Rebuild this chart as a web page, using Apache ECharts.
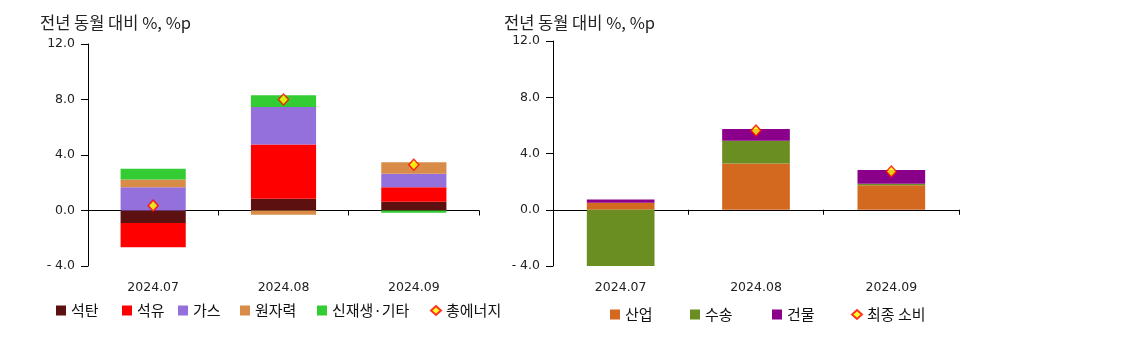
<!DOCTYPE html>
<html>
<head>
<meta charset="utf-8">
<script src="https://cdn.jsdelivr.net/npm/echarts@6/dist/echarts.min.js"></script>
<style>
html,body{margin:0;padding:0;background:#fff;}
#c{width:1143px;height:339px;}
</style>
</head>
<body>
<div id="c"></div>
<script>
// ---- data ----
var categories = ['2024.07', '2024.08', '2024.09'];
var yTicks = [-4, 0, 4, 8, 12];

// left chart: energy source contributions
var coal = [-0.9, 0.85, 0.63];
var oil = [-1.75, 3.9, 1.04];
var gas = [1.67, 2.71, 0.98];
var nuclear = [0.57, -0.3, 0.82];
var renew = [0.77, 0.84, -0.16];
var totalEnergy = [0.35, 8.0, 3.3];

// right chart: final consumption by sector
var industry = [0.5, 3.29, 1.75];
var transport = [-4.07, 1.61, 0.1];
var building = [0.23, 0.85, 0.97];
var finalConsumption = ['-', 5.63, 2.72];

var titleText = '전년 동월 대비 %, %p';

// ---- chart ----
var chart = echarts.init(document.getElementById('c'));
var KR = 'Noto Sans CJK KR';
var NUM = 'DejaVu Sans';

function yFmt(v) {
  return v < 0 ? '- ' + Math.abs(v).toFixed(1) : v.toFixed(1);
}

function makeX(gi) {
  return [
    {
      gridIndex: gi, type: 'category', data: categories,
      axisLine: { onZero: true, lineStyle: { color: '#000', width: 1 } },
      axisTick: { show: true, length: 5, lineStyle: { color: '#000' } },
      axisLabel: { show: false },
      splitLine: { show: false }
    },
    {
      gridIndex: gi, type: 'category', data: categories, position: 'bottom',
      axisLine: { show: false, onZero: false },
      axisTick: { show: false },
      axisLabel: { show: true, margin: 15, color: '#222', fontSize: 12.5, fontFamily: NUM },
      splitLine: { show: false }
    }
  ];
}
function makeY(gi) {
  return {
    gridIndex: gi, type: 'value', min: yTicks[0], max: yTicks[yTicks.length - 1], interval: 4,
    axisLine: { show: true, lineStyle: { color: '#000', width: 1 } },
    axisTick: { show: true, length: 7, lineStyle: { color: '#000' } },
    axisLabel: { margin: 13, color: '#222', fontSize: 12.5, fontFamily: NUM, formatter: yFmt },
    splitLine: { show: false }
  };
}
function bar(name, data, color, xi, yi, stack) {
  return {
    name: name, type: 'bar', stack: stack, data: data,
    xAxisIndex: xi, yAxisIndex: yi, barWidth: '50%',
    itemStyle: { color: color },
    emphasis: { disabled: true }
  };
}
function marker(name, data, xi, yi) {
  return {
    name: name, type: 'scatter', data: data, xAxisIndex: xi, yAxisIndex: yi,
    symbol: 'diamond', symbolSize: [10, 11], z: 5,
    itemStyle: { color: '#FFFF00', borderColor: '#FF0000', borderWidth: 1.5 },
    emphasis: { disabled: true }
  };
}
var legendText = { fontSize: 15, fontFamily: KR, color: '#111' };
function leg(name, left, top, isMarker) {
  return {
    data: [name], left: left, top: top, padding: 0, orient: 'horizontal',
    itemWidth: 10, itemHeight: isMarker ? 9 : 10,
    icon: isMarker ? 'diamond' : 'rect',
    textStyle: legendText, selectedMode: false
  };
}

var xAxes = makeX(0).concat(makeX(1));
var titleStyle = { fontSize: 16.5, fontWeight: 'normal', fontFamily: KR, color: '#222' };

var option = {
  backgroundColor: '#fff',
  animation: false,
  title: [
    { text: titleText, left: 40, top: 14, padding: 0, textStyle: titleStyle },
    { text: titleText, left: 504, top: 14, padding: 0, textStyle: titleStyle }
  ],
  grid: [
    { left: 88, top: 44, width: 391, height: 222 },
    { left: 553, top: 41, width: 406, height: 225 }
  ],
  xAxis: xAxes,
  yAxis: [makeY(0), makeY(1)],
  legend: [
    leg('석탄', 56, 303),
    leg('석유', 122, 303),
    leg('가스', 178, 303),
    leg('원자력', 240, 303),
    leg('신재생·기타', 317, 303),
    leg('총에너지', 430, 303, true),
    leg('산업', 610, 307),
    leg('수송', 690, 307),
    leg('건물', 772, 307),
    leg('최종 소비', 851, 307, true)
  ],
  series: [
    bar('석탄', coal, '#5C1010', 0, 0, 'L'),
    bar('석유', oil, '#FF0000', 0, 0, 'L'),
    bar('가스', gas, '#9370DB', 0, 0, 'L'),
    bar('원자력', nuclear, '#D98B48', 0, 0, 'L'),
    bar('신재생·기타', renew, '#33CC33', 0, 0, 'L'),
    marker('총에너지', totalEnergy, 0, 0),
    bar('산업', industry, '#D2691E', 2, 1, 'R'),
    bar('수송', transport, '#6B8E23', 2, 1, 'R'),
    bar('건물', building, '#8B008B', 2, 1, 'R'),
    marker('최종 소비', finalConsumption, 2, 1)
  ]
};
chart.setOption(option);
</script>
</body>
</html>
